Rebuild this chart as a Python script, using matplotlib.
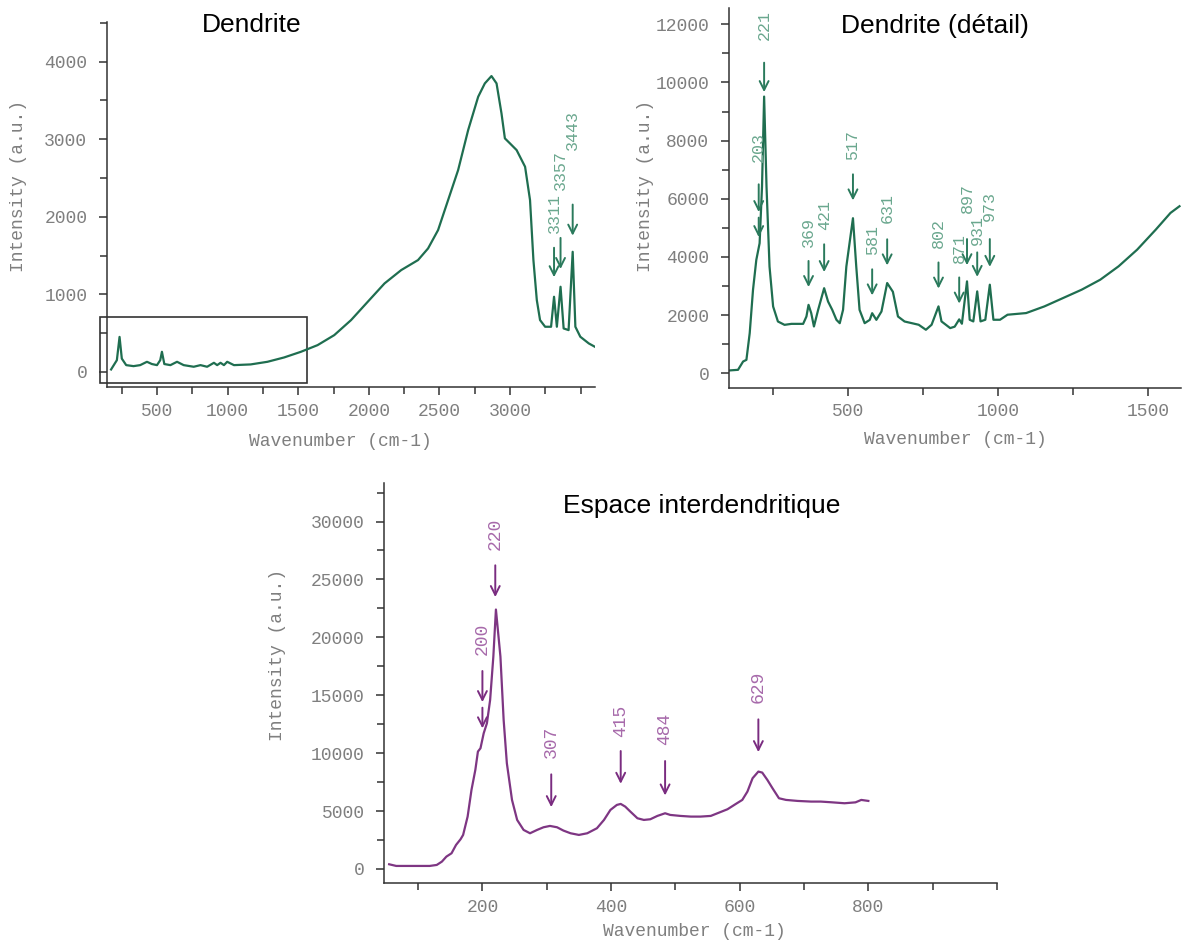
import matplotlib
matplotlib.use('Agg')
import matplotlib.pyplot as plt
from matplotlib.patches import Rectangle
from matplotlib.ticker import MultipleLocator

# --- Data: Raman spectra ---
# Dendrite, full range
dend_x = [175, 216, 235, 251, 282, 334, 381, 429, 464, 500, 523, 535, 552, 595, 642,
          689, 760, 808, 855, 903, 926, 950, 974, 997, 1045, 1163, 1282, 1400, 1519,
          1637, 1755, 1874, 1992, 2111, 2229, 2348, 2419, 2490, 2561, 2632, 2703, 2774,
          2821, 2868, 2904, 2939, 2963, 2999, 3046, 3106, 3141, 3165, 3189, 3212, 3248,
          3290, 3311, 3331, 3357, 3379, 3414, 3443, 3462, 3497, 3557, 3600]
dend_y = [30, 150, 450, 170, 86, 73, 86, 129, 100, 86, 150, 258, 100, 86, 129,
          86, 65, 86, 65, 116, 86, 116, 86, 129, 86, 95, 129, 185, 258,
          344, 473, 667, 903, 1140, 1312, 1441, 1591, 1828, 2215, 2602, 3118, 3548,
          3720, 3815, 3720, 3333, 3011, 2946, 2860, 2645, 2215, 1441, 925, 667, 581,
          581, 968, 581, 1097, 559, 538, 1548, 581, 452, 366, 323]

# Dendrite, detail (low wavenumbers)
det_x = [103, 134, 151, 162, 173, 184, 195, 206, 214, 221, 229, 239, 251, 267, 289,
         312, 351, 362, 369, 378, 387, 401, 421, 434, 448, 462, 473, 484, 495, 517,
         528, 539, 556, 573, 581, 595, 612, 631, 650, 667, 689, 736, 760, 779, 802,
         812, 841, 856, 871, 880, 897, 906, 918, 931, 942, 958, 973, 985, 1007, 1032,
         1094, 1155, 1217, 1279, 1341, 1402, 1464, 1526, 1575, 1605]
det_y = [92, 115, 401, 458, 1376, 2866, 3897, 4470, 6419, 9514, 6419, 3668, 2293, 1777, 1662,
         1696, 1696, 1949, 2350, 2063, 1605, 2178, 2923, 2465, 2178, 1834, 1719, 2178, 3668, 5330,
         3668, 2178, 1719, 1834, 2063, 1834, 2121, 3100, 2800, 1949, 1777, 1665, 1493, 1665, 2297,
         1780, 1550, 1600, 1850, 1700, 3158, 1837, 1780, 2813, 1780, 1837, 3043, 1837, 1837, 2010,
         2067, 2297, 2584, 2871, 3215, 3675, 4249, 4938, 5512, 5742]

# Interdendritic space
inter_x = [55, 66, 92, 118, 129, 137, 144, 152, 159, 166, 170, 177, 183, 189, 193,
           197, 202, 207, 212, 217, 221, 228, 233, 238, 246, 254, 264, 274, 285, 295,
           305, 316, 326, 337, 350, 363, 378, 389, 399, 409, 415, 422, 430, 441, 451,
           461, 472, 484, 492, 508, 524, 539, 555, 568, 581, 594, 604, 612, 620, 629,
           635, 643, 651, 661, 672, 690, 711, 726, 742, 763, 780, 789, 800]
inter_y = [403, 259, 259, 259, 345, 633, 1065, 1353, 2073, 2562, 2937, 4520, 6823, 8551, 10134,
           10422, 11718, 12582, 14597, 18340, 22400, 18340, 12870, 9127, 5960, 4232, 3369, 3081, 3369, 3599,
           3714, 3599, 3311, 3081, 2937, 3081, 3513, 4232, 5096, 5528, 5614, 5384, 4952, 4376, 4232,
           4290, 4578, 4808, 4664, 4578, 4520, 4520, 4578, 4866, 5154, 5614, 5960, 6680, 7831, 8407,
           8321, 7687, 6967, 6104, 5960, 5873, 5816, 5816, 5758, 5672, 5750, 5960, 5873]

# Peak annotations: label, arrow tail, arrow tip, label base (intensity units)
dend_peaks = [(3311, 1636, 1184, 1786), (3357, 1763, 1290, 2345), (3443, 2193, 1720, 2860)]
det_peaks = [(221, 10775, 9571, 11463), (203, 6591, 5445, 7279), (369, 3955, 2866, 4356),
             (421, 4528, 3381, 4929), (517, 6935, 5846, 7336), (581, 3668, 2579, 4069),
             (631, 4700, 3611, 5158), (802, 3904, 2813, 4306), (871, 3388, 2297, 3790),
             (897, 4708, 3617, 5520), (931, 4250, 3215, 4420), (973, 4708, 3560, 5225)]
inter_peaks = [(220, 26459, 23234, 27553), (200, 17332, 14165, 18484), (307, 8407, 5096, 9558),
               (415, 10422, 7111, 11430), (484, 9558, 6104, 10710), (629, 13157, 9846, 14309)]

GREEN = '#1f6e50'
GREEN_ARROW = '#2a7a5c'
GREEN_TXT = '#6aa78e'
PURPLE = '#7e3683'
PURPLE_ARROW = '#7a2c80'
PURPLE_TXT = '#a76aab'
GREY = '#7f7f7f'
AXC = '#333333'
MONO = 'Liberation Mono'
SANS = 'Liberation Sans'

W, H = 1184, 943
fig = plt.figure(figsize=(W / 100, H / 100), dpi=100)


def box(left, top, right, bottom):
    return [left / W, 1 - bottom / H, (right - left) / W, (bottom - top) / H]


def px(x, y):
    return x / W, 1 - y / H


def style_axes(ax, xmaj, xmin, ymaj, ymin):
    for s in ['top', 'right']:
        ax.spines[s].set_visible(False)
    for s in ['left', 'bottom']:
        ax.spines[s].set_color(AXC)
        ax.spines[s].set_linewidth(1.1)
    ax.xaxis.set_major_locator(MultipleLocator(xmaj))
    ax.xaxis.set_minor_locator(MultipleLocator(xmin))
    ax.yaxis.set_major_locator(MultipleLocator(ymaj))
    ax.yaxis.set_minor_locator(MultipleLocator(ymin))
    ax.tick_params(which='both', direction='out', color=AXC, width=1.1)
    ax.tick_params(which='major', length=6)
    ax.tick_params(which='minor', length=5)
    ax.tick_params(axis='x', pad=5)
    ax.tick_params(axis='y', pad=8)


def arrows(ax, peaks, color, tcolor, fs):
    for lab, tail, tip, base in peaks:
        ax.annotate('', xy=(lab, tip), xytext=(lab, tail),
                    arrowprops=dict(arrowstyle='->', color=color, lw=1.4, mutation_scale=16))
        ax.text(lab, base, str(lab), rotation=90, ha='center', va='bottom',
                family=MONO, fontsize=fs, color=tcolor)


# --- Top left: Dendrite ---
ax1 = fig.add_axes(box(106.7, 21.7, 595, 387.3))
ax1.plot(dend_x, dend_y, color=GREEN, lw=1.6)
ax1.set_xlim(144, 3601)
ax1.set_ylim(-200, 4516)
style_axes(ax1, 500, 250, 1000, 500)
ax1.set_xticks([500, 1000, 1500, 2000, 2500, 3000])
arrows(ax1, dend_peaks, GREEN_ARROW, GREEN_TXT, 12)
ax1.add_patch(Rectangle((100, -142), 1461, 852, fill=False, ec=AXC, lw=1.2, clip_on=False))

# --- Top right: Dendrite (detail) ---
ax2 = fig.add_axes(box(728.7, 8.3, 1181, 387.7))
ax2.plot(det_x, det_y, color=GREEN, lw=1.6)
ax2.set_xlim(103, 1610)
ax2.set_ylim(-500, 12550)
style_axes(ax2, 500, 250, 2000, 1000)
arrows(ax2, det_peaks, GREEN_ARROW, GREEN_TXT, 12)
ax2.annotate('', xy=(203, 4584), xytext=(203, 5445),
             arrowprops=dict(arrowstyle='->', color=GREEN_ARROW, lw=1.4, mutation_scale=16))

# --- Bottom: interdendritic space ---
ax3 = fig.add_axes(box(384, 483.3, 997, 883.3))
ax3.plot(inter_x, inter_y, color=PURPLE, lw=1.6)
ax3.set_xlim(47, 1000)
ax3.set_ylim(-1240, 33300)
style_axes(ax3, 200, 100, 5000, 2500)
ax3.set_xticks([200, 400, 600, 800])
arrows(ax3, inter_peaks, PURPLE_ARROW, PURPLE_TXT, 13)
ax3.annotate('', xy=(200, 11900), xytext=(200, 14165),
             arrowprops=dict(arrowstyle='->', color=PURPLE_ARROW, lw=1.4, mutation_scale=16))

for ax in (ax1, ax2, ax3):
    for lab in ax.get_xticklabels() + ax.get_yticklabels():
        lab.set_fontfamily(MONO)
        lab.set_fontsize(13)
        lab.set_color(GREY)

# --- Titles and axis labels ---
fig.text(*px(252, 32), 'Dendrite', family=SANS, fontsize=19, ha='center', va='baseline')
fig.text(*px(935, 33), 'Dendrite (détail)', family=SANS, fontsize=19, ha='center', va='baseline')
fig.text(*px(702, 513), 'Espace interdendritique', family=SANS, fontsize=19, ha='center', va='baseline')

for (xl, yl) in [(340, 441), (955, 440), (694, 931)]:
    fig.text(*px(xl, yl), 'Wavenumber (cm-1)', family=MONO, fontsize=13, color=GREY,
             ha='center', va='center')
for (xl, yl) in [(19, 186), (645, 186), (278, 655)]:
    fig.text(*px(xl, yl), 'Intensity (a.u.)', family=MONO, fontsize=13, color=GREY,
             ha='center', va='center', rotation=90)

fig.savefig('out.png', dpi=100)
